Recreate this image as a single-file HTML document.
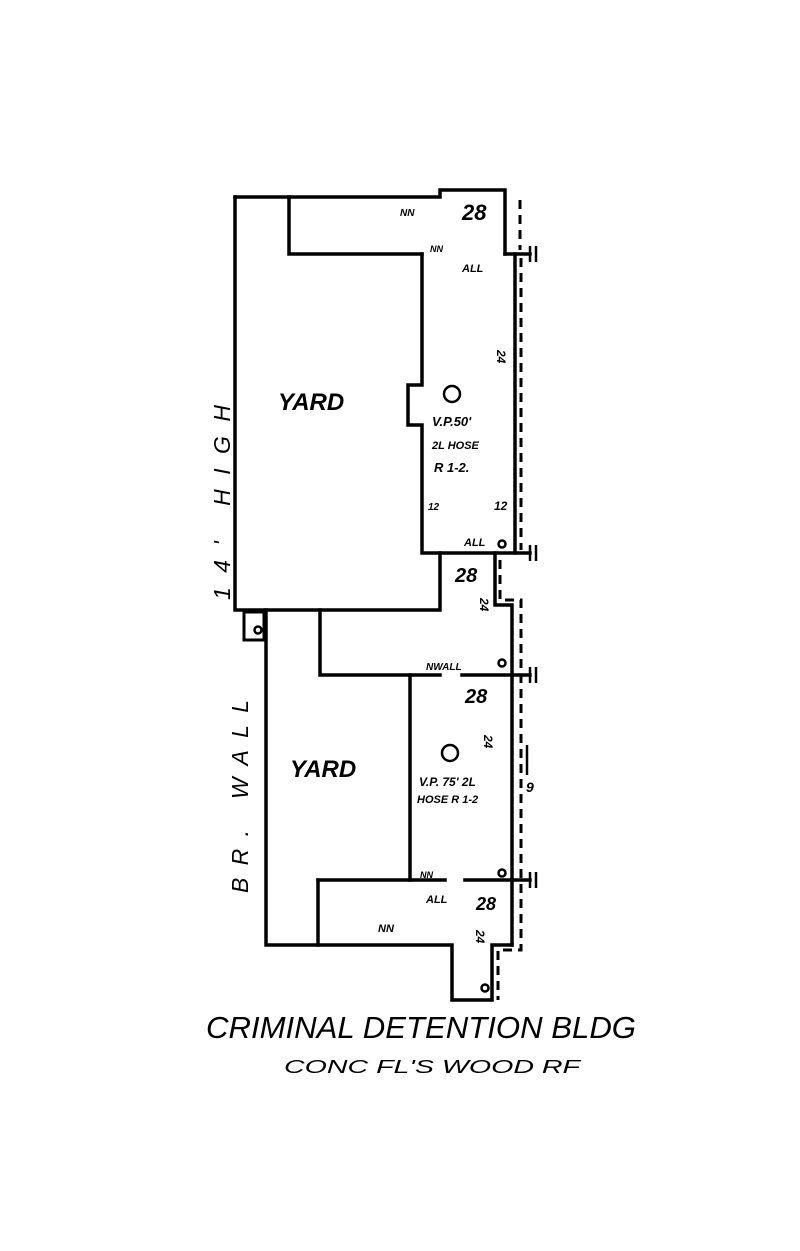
<!DOCTYPE html>
<html><head><style>
html,body{margin:0;padding:0;background:#fff;}
svg{display:block;}
text{font-family:"Liberation Sans",sans-serif;font-style:italic;font-weight:bold;fill:#000;}
</style></head><body>
<svg width="800" height="1251" viewBox="0 0 800 1251" xmlns="http://www.w3.org/2000/svg">
<g fill="none" stroke="#000" stroke-width="3.5" stroke-linejoin="miter" stroke-linecap="square">
<path d="M235,197 L440,197 L440,190 L505,190 L505,254"/>
<path d="M235,197 L235,610 L440,610 L440,553"/>
<path d="M289,197 L289,254 L422,254"/>
<path d="M422,254 L422,385 L408,385 L408,425 L422,425 L422,553 L515,553"/>
<path d="M505,254 L530,254"/>
<path d="M515,254 L515,553 L530,553"/>
<path d="M495,553 L495,605 L512,605 L512,945"/>
<path d="M266,610 L266,945 L452,945 L452,1000 L492,1000 L492,945 L512,945"/>
<path d="M320,610 L320,675 L440,675"/>
<path d="M462,675 L530,675"/>
<path d="M410,675 L410,880"/>
<path d="M318,880 L445,880"/>
<path d="M465,880 L530,880"/>
<path d="M318,880 L318,945"/>
<rect x="244" y="612" width="20" height="28" stroke-width="3"/>
</g>
<g stroke="#000" stroke-width="3" stroke-dasharray="9,6" fill="none">
<path d="M520,200 L520,250"/>
<path d="M521,258 L521,550"/>
<path d="M500,560 L500,600 L521,600 L521,950 L498,950 L498,1000"/>
</g>
<g stroke="#000" stroke-width="2.5">
<path d="M530,246 V262 M536,246 V262"/>
<path d="M530,545 V561 M536,545 V561"/>
<path d="M530,667 V683 M536,667 V683"/>
<path d="M530,872 V888 M536,872 V888"/>
<path d="M527,745 V775"/>
</g>
<g fill="none" stroke="#000" stroke-width="2.5">
<circle cx="452" cy="394" r="8"/>
<circle cx="450" cy="753" r="8"/>
<circle cx="502" cy="544" r="3.5"/>
<circle cx="502" cy="663" r="3.5"/>
<circle cx="502" cy="873" r="3.5"/>
<circle cx="485" cy="988" r="3.5"/>
<circle cx="258" cy="630" r="3.5"/>
</g>
<text x="278" y="410" font-size="24">YARD</text>
<text x="290" y="777" font-size="24">YARD</text>
<text x="462" y="220" font-size="22">28</text>
<text x="455" y="582" font-size="20">28</text>
<text x="465" y="703" font-size="20">28</text>
<text x="476" y="910" font-size="18">28</text>
<text x="400" y="216" font-size="10">NN</text>
<text x="462" y="272" font-size="11">ALL</text>
<text x="430" y="252" font-size="9">NN</text>
<text x="432" y="426" font-size="13">V.P.50'</text>
<text x="432" y="449" font-size="11">2L HOSE</text>
<text x="434" y="472" font-size="13">R 1-2.</text>
<text x="428" y="510" font-size="10">12</text>
<text x="494" y="510" font-size="12">12</text>
<text x="464" y="546" font-size="11">ALL</text>
<text x="426" y="670" font-size="10">NWALL</text>
<text x="419" y="786" font-size="12">V.P. 75' 2L</text>
<text x="417" y="803" font-size="11">HOSE R 1-2</text>
<text x="420" y="878" font-size="9">NN</text>
<text x="426" y="903" font-size="11">ALL</text>
<text x="378" y="932" font-size="11">NN</text>
<text transform="translate(497,350) rotate(90)" font-size="12">24</text>
<text transform="translate(480,598) rotate(90)" font-size="12">24</text>
<text transform="translate(484,735) rotate(90)" font-size="12">24</text>
<text transform="translate(476,930) rotate(90)" font-size="12">24</text>
<text x="526" y="792" font-size="14">9</text>
<text transform="translate(230,600) rotate(-90)" font-size="23" style="font-weight:normal" textLength="195" lengthAdjust="spacing">14'  HIGH</text>
<text transform="translate(248,893) rotate(-90)" font-size="23" style="font-weight:normal" textLength="193" lengthAdjust="spacing">BR. WALL</text>
<text x="206" y="1038" font-size="31" style="font-weight:normal" textLength="430" lengthAdjust="spacingAndGlyphs">CRIMINAL DETENTION BLDG</text>
<text x="284" y="1073" font-size="18" style="font-weight:normal" textLength="296" lengthAdjust="spacingAndGlyphs">CONC FL'S  WOOD RF</text>
</svg>
</body></html>
